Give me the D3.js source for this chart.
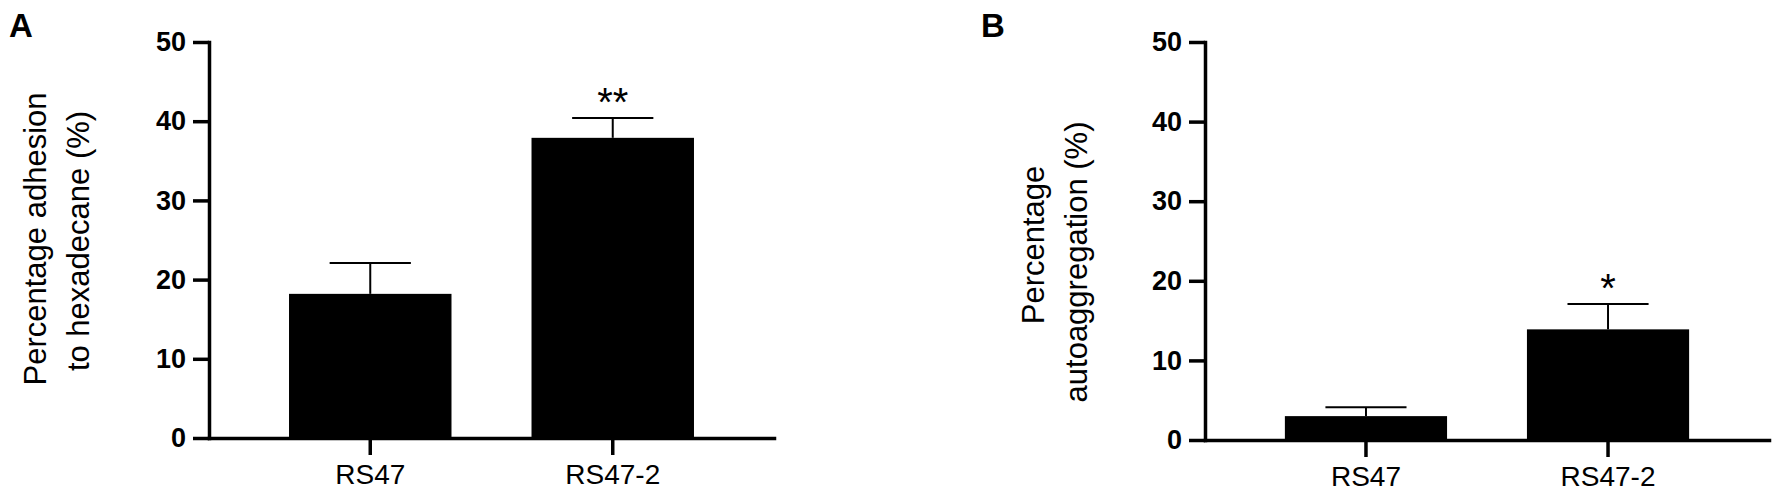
<!DOCTYPE html>
<html lang="en">
<head>
    <meta charset="UTF-8"/>
    <title>Adhesion and autoaggregation</title>
    <script src="https://d3js.org/d3.v7.min.js"></script>
    <style>
        body {
            margin: 0;
            background: white;
        }

        svg {
            display: block;
        }

        text {
            font-family: "Liberation Sans", Arial, sans-serif;
            fill: black;
        }
    </style>
</head>
<body>
<svg id="chart" width="1775" height="492"></svg>

<script>
    const strains = ["RS47", "RS47-2"];
    const yTicks = [0, 10, 20, 30, 40, 50];

    // panel A - hexadecane adhesion
    const adhesionMean = [18.2, 37.9];
    const adhesionErr = [3.9, 2.5];
    const adhesionStars = ["", "**"];
    const adhesionLabel = ["Percentage adhesion", "to hexadecane (%)"];

    // panel B - autoaggregation
    const aggregationMean = [3.0, 13.9];
    const aggregationErr = [1.1, 3.2];
    const aggregationStars = ["", "*"];
    const aggregationLabel = ["Percentage", "autoaggregation (%)"];

    const svg = d3.select("#chart");

    function drawPanel(p) {
        const g = svg.append("g");

        const x = d3.scaleBand().domain(strains).range([p.left, p.right]).padding(0.33);
        const y = d3.scaleLinear().domain([0, 50]).range([p.bottom, p.top]);

        const rows = strains.map((s, i) => ({name: s, mean: p.mean[i], err: p.err[i], star: p.stars[i]}));

        // bars
        g.selectAll(".bar")
            .data(rows)
            .join("rect")
            .attr("class", "bar")
            .attr("x", d => x(d.name))
            .attr("width", x.bandwidth())
            .attr("y", d => y(d.mean))
            .attr("height", d => y(0) - y(d.mean))
            .attr("fill", "black");

        // upper error bars
        const cx = d => x(d.name) + x.bandwidth() / 2;
        g.selectAll(".err-v")
            .data(rows)
            .join("line")
            .attr("class", "err-v")
            .attr("x1", cx).attr("x2", cx)
            .attr("y1", d => y(d.mean)).attr("y2", d => y(d.mean + d.err))
            .attr("stroke", "black")
            .attr("stroke-width", 2);
        g.selectAll(".err-cap")
            .data(rows)
            .join("line")
            .attr("class", "err-cap")
            .attr("x1", d => cx(d) - x.bandwidth() / 4).attr("x2", d => cx(d) + x.bandwidth() / 4)
            .attr("y1", d => y(d.mean + d.err)).attr("y2", d => y(d.mean + d.err))
            .attr("stroke", "black")
            .attr("stroke-width", 2);

        // significance stars
        g.selectAll(".star")
            .data(rows.filter(d => d.star))
            .join("text")
            .attr("class", "star")
            .attr("x", cx)
            .attr("y", d => y(d.mean + d.err) - 2)
            .attr("text-anchor", "middle")
            .style("font-size", "40px")
            .text(d => d.star);

        // y axis
        const yAxis = g.append("g")
            .attr("transform", `translate(${p.left},0)`)
            .call(d3.axisLeft(y).tickValues(yTicks).tickSize(16).tickSizeOuter(0).tickPadding(7));
        yAxis.select(".domain").attr("stroke-width", 3.5).attr("stroke-linecap", "square");
        yAxis.selectAll(".tick line").attr("stroke-width", 3.5);
        yAxis.selectAll(".tick text")
            .style("font-family", "'Liberation Sans', Arial, sans-serif")
            .style("font-size", "27px")
            .style("font-weight", "bold");

        // x axis
        const xAxis = g.append("g")
            .attr("transform", `translate(0,${p.bottom})`)
            .call(d3.axisBottom(x).tickSize(17).tickSizeOuter(0).tickPadding(9));
        xAxis.select(".domain").attr("stroke-width", 3.5).attr("stroke-linecap", "square");
        xAxis.selectAll(".tick line").attr("stroke-width", 3.5);
        xAxis.selectAll(".tick text")
            .style("font-family", "'Liberation Sans', Arial, sans-serif")
            .style("font-size", "28px");

        // y axis title, one text per line
        p.label.forEach((line, i) => {
            g.append("text")
                .attr("transform", `translate(${p.labelX[i]},${p.labelY[i]}) rotate(-90)`)
                .attr("text-anchor", "middle")
                .style("font-size", "31px")
                .text(line);
        });

        // panel letter
        g.append("text")
            .attr("x", p.letterX)
            .attr("y", 37)
            .style("font-size", "33px")
            .style("font-weight", "bold")
            .text(p.letter);
    }

    drawPanel({
        letter: "A", letterX: 9,
        left: 209, right: 774, top: 42, bottom: 438,
        mean: adhesionMean, err: adhesionErr, stars: adhesionStars,
        label: adhesionLabel, labelX: [46, 89], labelY: [239, 241]
    });

    drawPanel({
        letter: "B", letterX: 981,
        left: 1205, right: 1769, top: 42, bottom: 440,
        mean: aggregationMean, err: aggregationErr, stars: aggregationStars,
        label: aggregationLabel, labelX: [1044, 1087], labelY: [245, 262]
    });
</script>
</body>
</html>
